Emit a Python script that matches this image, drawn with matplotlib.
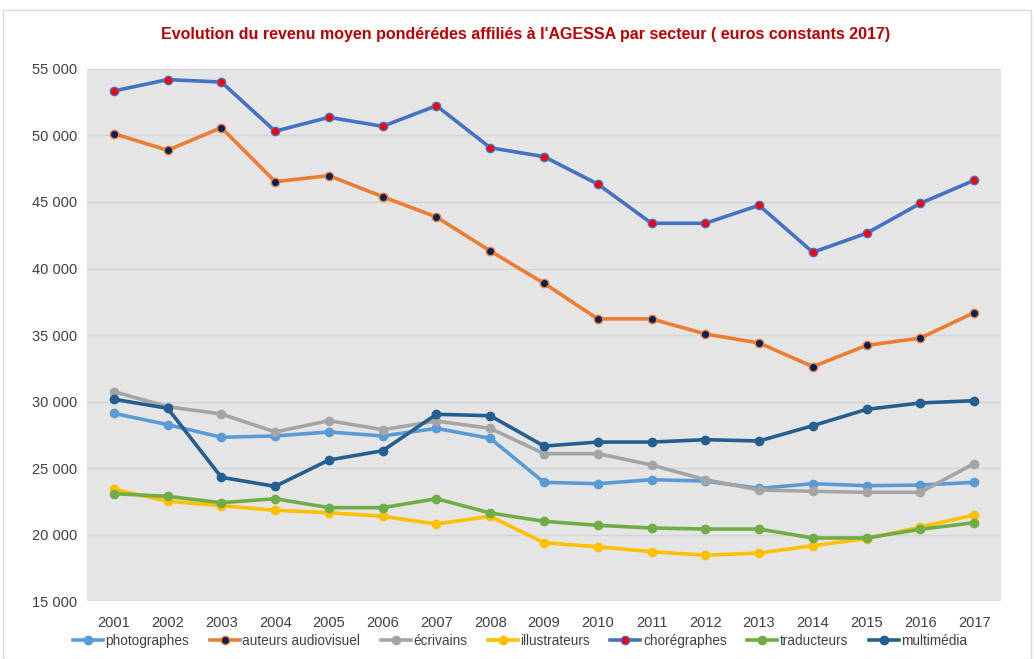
import matplotlib
matplotlib.use("Agg")
import matplotlib.pyplot as plt
from matplotlib.patches import Rectangle

years = [str(y) for y in range(2001, 2018)]

photographes = [29110, 28260, 27310, 27410, 27710, 27410, 27980, 27230, 23920,
                23820, 24120, 24020, 23470, 23820, 23670, 23720, 23920]
auteurs_audiovisuel = [50140, 48890, 50590, 46530, 46980, 45400, 43870, 41320, 38890,
                       36210, 36210, 35080, 34400, 32620, 34220, 34770, 36680]
ecrivains = [30740, 29610, 29060, 27710, 28560, 27880, 28530, 27980, 26080,
             26080, 25230, 24120, 23350, 23250, 23170, 23170, 25330]
illustrateurs = [23400, 22500, 22170, 21820, 21640, 21370, 20790, 21370, 19380,
                 19080, 18710, 18440, 18610, 19160, 19690, 20560, 21470]
choregraphes = [53350, 54200, 54020, 50320, 51370, 50690, 52240, 49080, 48410,
                46350, 43400, 43400, 44750, 41220, 42650, 44900, 46630]
traducteurs = [23070, 22870, 22390, 22690, 22020, 22020, 22690, 21620, 20990,
               20690, 20490, 20410, 20410, 19740, 19740, 20390, 20890]
multimedia = [30170, 29490, 24300, 23620, 25600, 26300, 29040, 28930, 26650,
              26950, 26950, 27130, 27030, 28180, 29410, 29890, 30060]

# (label, values, line colour, marker face)
series = [
    ("photographes", photographes, "#5B9BD5", "#5B9BD5"),
    ("auteurs audiovisuel", auteurs_audiovisuel, "#ED7D31", "#002060"),
    ("écrivains", ecrivains, "#A5A5A5", "#A5A5A5"),
    ("illustrateurs", illustrateurs, "#FFC000", "#FFC000"),
    ("chorégraphes", choregraphes, "#4472C4", "#FF0000"),
    ("traducteurs", traducteurs, "#70AD47", "#70AD47"),
    ("multimédia", multimedia, "#255E91", "#255E91"),
]

plt.rcParams["font.family"] = ["Liberation Sans", "DejaVu Sans"]

fig = plt.figure(figsize=(10.34, 6.59), dpi=100)
fig.patches.append(Rectangle((0.003, 0.0), 0.994, 0.985, transform=fig.transFigure,
                             fill=False, edgecolor="#D9D9D9", linewidth=1))
ax = fig.add_axes([0.0841, 0.088, 0.884, 0.8073])
ax.set_facecolor("#E5E5E5")

x = list(range(len(years)))
for label, vals, col, face in series:
    ax.plot(x, vals, color=col, lw=2.6, marker="o", markersize=6,
            markerfacecolor=face, markeredgecolor=col, markeredgewidth=1,
            label=label, solid_joinstyle="round")

ax.set_xlim(-0.5, len(years) - 0.5)
ax.set_ylim(15000, 55000)
ax.set_yticks(range(15000, 55001, 5000))
ax.set_yticklabels([f"{v // 1000} 000" for v in range(15000, 55001, 5000)])
ax.set_xticks(x)
ax.set_xticklabels(years)
ax.tick_params(axis="both", length=0, labelsize=10.5, colors="#404040")
ax.tick_params(axis="x", pad=11)
ax.tick_params(axis="y", pad=7)
ax.grid(axis="y", color="#D4D4D4", lw=1)
ax.set_axisbelow(True)
for s in ax.spines.values():
    s.set_visible(False)

fig.text(0.508, 0.947, "Evolution du revenu moyen pondérédes affiliés à l'AGESSA par secteur ( euros constants 2017)",
         ha="center", va="center", color="#C00000", fontsize=11.5, fontweight="bold")

fig.legend(loc="center", bbox_to_anchor=(0.503, 0.027), ncol=7, frameon=False,
           fontsize=9.8, handlelength=2.2, columnspacing=1.5, handletextpad=0.2,
           labelcolor="#404040")

fig.savefig("out.png", dpi=100)
